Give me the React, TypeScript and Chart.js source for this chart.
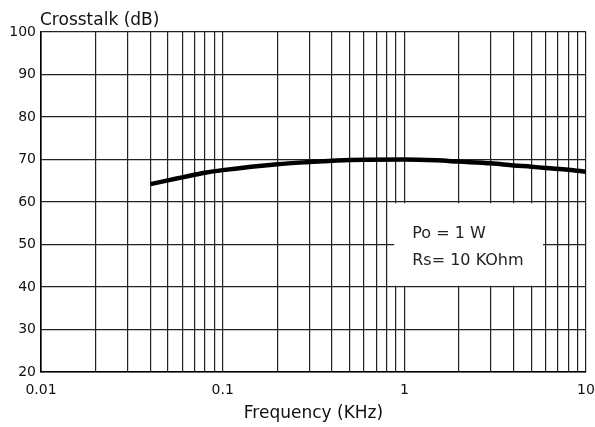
import React, { useEffect, useRef } from "react";
import { Chart, registerables } from "chart.js";

Chart.register(...registerables);

// Data
const FREQ_KHZ = [0.04, 0.05, 0.06, 0.07, 0.08, 0.1, 0.2, 0.3, 0.5, 1, 1.5, 2, 3, 4, 5, 6, 8, 10];
const CROSSTALK_DB = [64.2, 65.1, 65.8, 66.4, 66.9, 67.5, 68.9, 69.4, 69.9, 70.0, 69.8, 69.5, 69.1, 68.6, 68.3, 68.0, 67.6, 67.1];

// Axis ticks
const X_MAJOR = [0.01, 0.1, 1, 10];
const X_TICK_LABELS = ["0.01", "0.1", "1", "10"];
const X_DECADES = [0.01, 0.1, 1];
const X_MULTIPLIERS = [1, 2, 3, 4, 5, 6, 7, 8, 9];
const Y_MIN = 20;
const Y_MAX = 100;
const Y_STEP = 10;

// Texts
const Y_TITLE = "Crosstalk (dB)";
const X_TITLE = "Frequency (KHz)";
const NOTE_LINES = ["Po = 1 W", "Rs= 10 KOhm"];
const NOTE_X = [0.88, 5.8];
const NOTE_Y = [40, 60];

const FONT = "'DejaVu Sans', 'Liberation Sans', Arial, sans-serif";

export default function App() {
  const ref = useRef<HTMLCanvasElement | null>(null);

  useEffect(() => {
    document.body.style.margin = "0";
    const canvas = ref.current;
    if (!canvas) return;

    const gridX: number[] = [];
    X_DECADES.forEach((d) => X_MULTIPLIERS.forEach((m) => gridX.push(Number((d * m).toPrecision(3)))));
    gridX.push(X_MAJOR[X_MAJOR.length - 1]);

    const overlay = {
      id: "overlay",
      beforeDatasetsDraw(chart: any) {
        const { ctx, scales } = chart;
        const xs = scales.x;
        const ys = scales.y;
        const left = xs.getPixelForValue(NOTE_X[0]);
        const right = xs.getPixelForValue(NOTE_X[1]);
        const top = ys.getPixelForValue(NOTE_Y[1]) + 1.2;
        const bottom = ys.getPixelForValue(NOTE_Y[0]) - 1.2;
        ctx.save();
        ctx.fillStyle = "#ffffff";
        ctx.fillRect(left, top, right - left, bottom - top);
        ctx.fillStyle = "#222";
        ctx.font = `16px ${FONT}`;
        ctx.textBaseline = "alphabetic";
        ctx.textAlign = "left";
        ctx.fillText(NOTE_LINES[0], left + 18, top + 35);
        ctx.fillText(NOTE_LINES[1], left + 18, top + 62);
        ctx.restore();
      },
      afterDraw(chart: any) {
        const { ctx, chartArea } = chart;
        ctx.save();
        ctx.fillStyle = "#111";
        ctx.font = `17px ${FONT}`;
        ctx.textBaseline = "alphabetic";
        ctx.textAlign = "left";
        ctx.fillText(Y_TITLE, chartArea.left - 1, 25);
        ctx.restore();
      },
    };

    const chart = new Chart(canvas, {
      type: "line",
      data: {
        datasets: [
          {
            data: FREQ_KHZ.map((f, i) => ({ x: f, y: CROSSTALK_DB[i] })),
            borderColor: "#000",
            borderWidth: 4.5,
            pointRadius: 0,
            cubicInterpolationMode: "monotone",
            fill: false,
          },
        ],
      },
      options: {
        animation: false,
        responsive: false,
        devicePixelRatio: 1,
        layout: { padding: { top: 32, right: 9, left: 0, bottom: 0 } },
        plugins: { legend: { display: false }, tooltip: { enabled: false }, title: { display: false } },
        scales: {
          x: {
            type: "logarithmic",
            min: 0.01,
            max: 10,
            afterBuildTicks: (scale: any) => {
              scale.ticks = gridX.map((v) => ({ value: v }));
            },
            afterFit: (scale: any) => {
              scale.height = 55;
              scale.paddingLeft = 0;
              scale.paddingRight = 0;
            },
            grid: { color: "#222", lineWidth: 1.2, drawTicks: false },
            border: { display: true, color: "#000", width: 1.6 },
            ticks: {
              autoSkip: false,
              maxRotation: 0,
              padding: 10,
              color: "#111",
              font: { family: FONT, size: 14 },
              callback: (value: any) => {
                const v = Number(value);
                const i = X_MAJOR.findIndex((m) => Math.abs(m - v) < 1e-9);
                return i >= 0 ? X_TICK_LABELS[i] : "";
              },
            },
            title: {
              display: true,
              text: X_TITLE,
              color: "#111",
              font: { family: FONT, size: 17 },
              padding: { top: 0, bottom: 3 },
            },
          },
          y: {
            type: "linear",
            min: Y_MIN,
            max: Y_MAX,
            afterFit: (scale: any) => {
              scale.width = 41;
            },
            grid: { color: "#222", lineWidth: 1.2, drawTicks: false },
            border: { display: true, color: "#000", width: 1.6 },
            ticks: {
              stepSize: Y_STEP,
              padding: 5,
              color: "#111",
              font: { family: FONT, size: 14 },
            },
          },
        },
      },
      plugins: [overlay],
    } as any);

    return () => chart.destroy();
  }, []);

  return (
    <div style={{ width: 595, height: 427, background: "#fff" }}>
      <canvas ref={ref} width={595} height={427} style={{ display: "block" }} />
    </div>
  );
}
